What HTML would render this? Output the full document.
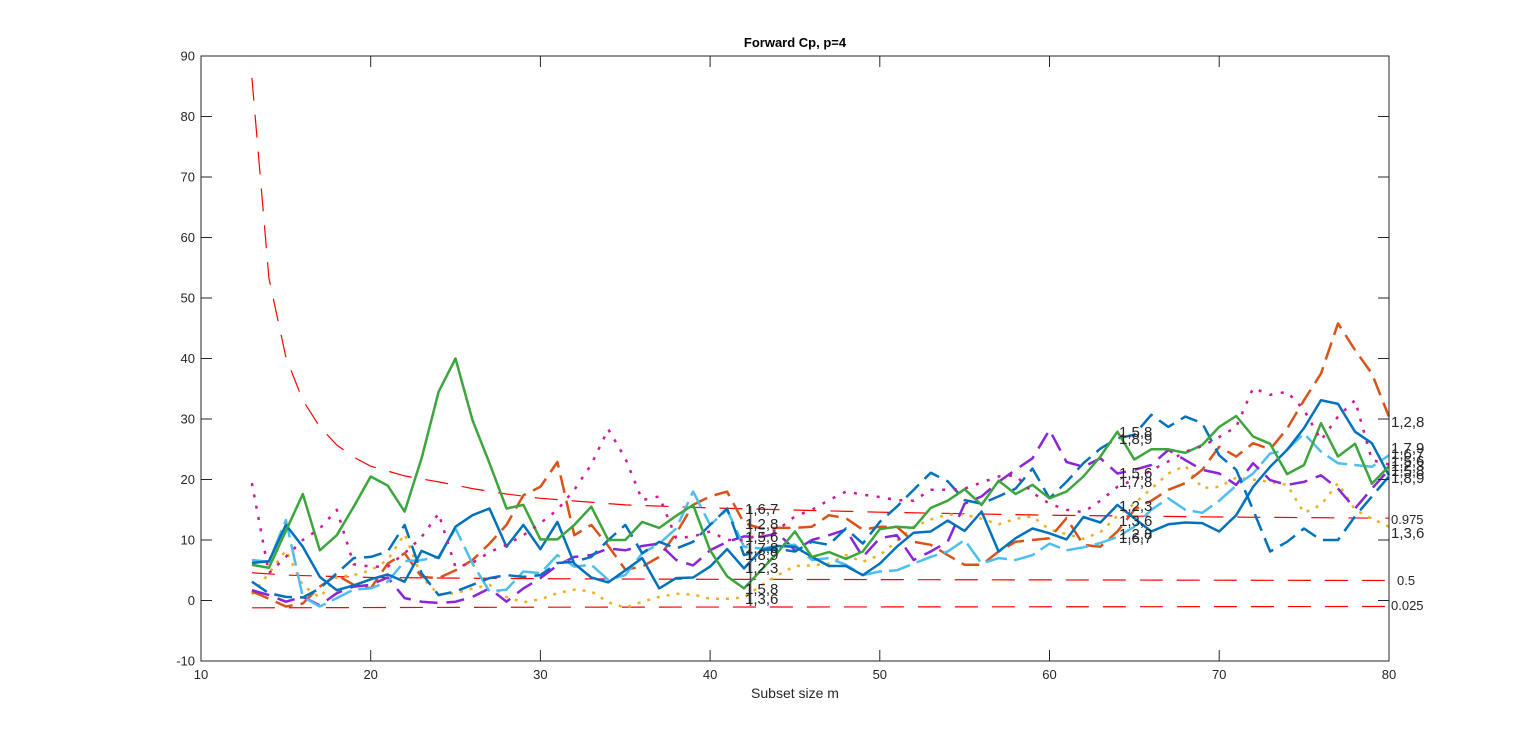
<!DOCTYPE html>
<html><head><meta charset="utf-8"><style>
html,body{margin:0;padding:0;background:#fff;}
svg{display:block;}
text{font-family:"Liberation Sans",Arial,sans-serif;fill:#262626;}
.tk{font-size:13px;}
.lb{font-size:15px;fill:#2a2a2a;}
.sm{font-size:13px;fill:#2a2a2a;}
</style></head><body>
<svg id="s" width="1536" height="744" viewBox="0 0 1536 744" xmlns="http://www.w3.org/2000/svg">
<rect x="0" y="0" width="1536" height="744" fill="#fff"/>
<g id="plot"></g>
<!-- axes box -->
<rect x="201" y="56" width="1188" height="605" fill="none" stroke="#262626" stroke-width="1"/>
<g stroke="#262626" stroke-width="1">
<line x1="370.7" y1="661" x2="370.7" y2="650"/><line x1="540.4" y1="661" x2="540.4" y2="650"/><line x1="710.1" y1="661" x2="710.1" y2="650"/><line x1="879.8" y1="661" x2="879.8" y2="650"/><line x1="1049.5" y1="661" x2="1049.5" y2="650"/><line x1="1219.2" y1="661" x2="1219.2" y2="650"/>
<line x1="370.7" y1="56" x2="370.7" y2="67"/><line x1="540.4" y1="56" x2="540.4" y2="67"/><line x1="710.1" y1="56" x2="710.1" y2="67"/><line x1="879.8" y1="56" x2="879.8" y2="67"/><line x1="1049.5" y1="56" x2="1049.5" y2="67"/><line x1="1219.2" y1="56" x2="1219.2" y2="67"/>
<line x1="201" y1="116.5" x2="212" y2="116.5"/><line x1="201" y1="177" x2="212" y2="177"/><line x1="201" y1="237.5" x2="212" y2="237.5"/><line x1="201" y1="298" x2="212" y2="298"/><line x1="201" y1="358.5" x2="212" y2="358.5"/><line x1="201" y1="419" x2="212" y2="419"/><line x1="201" y1="479.5" x2="212" y2="479.5"/><line x1="201" y1="540" x2="212" y2="540"/><line x1="201" y1="600.5" x2="212" y2="600.5"/>
<line x1="1389" y1="116.5" x2="1378" y2="116.5"/><line x1="1389" y1="177" x2="1378" y2="177"/><line x1="1389" y1="237.5" x2="1378" y2="237.5"/><line x1="1389" y1="298" x2="1378" y2="298"/><line x1="1389" y1="358.5" x2="1378" y2="358.5"/><line x1="1389" y1="419" x2="1378" y2="419"/><line x1="1389" y1="479.5" x2="1378" y2="479.5"/><line x1="1389" y1="540" x2="1378" y2="540"/><line x1="1389" y1="600.5" x2="1378" y2="600.5"/>
</g>
<!-- y tick labels -->
<g class="tk" text-anchor="end">
<text x="195" y="60.5">90</text><text x="195" y="121">80</text><text x="195" y="181.5">70</text><text x="195" y="242">60</text><text x="195" y="302.5">50</text><text x="195" y="363">40</text><text x="195" y="423.5">30</text><text x="195" y="484">20</text><text x="195" y="544.5">10</text><text x="195" y="605">0</text><text x="195" y="665.5">-10</text>
</g>
<g class="tk" text-anchor="middle">
<text x="201" y="679">10</text><text x="370.7" y="679">20</text><text x="540.4" y="679">30</text><text x="710.1" y="679">40</text><text x="879.8" y="679">50</text><text x="1049.5" y="679">60</text><text x="1219.2" y="679">70</text><text x="1389" y="679">80</text>
</g>
<text x="795" y="47" text-anchor="middle" style="font-size:13px;font-weight:bold;fill:#000">Forward Cp, p=4</text>
<text x="795" y="698" text-anchor="middle" style="font-size:14px">Subset size m</text>
<!-- vertical line at labels m=42 -->
<line x1="750.5" y1="506" x2="750.5" y2="606" stroke="#555" stroke-width="1.6"/>
<g class="lb">
<text x="745" y="514">1,6,7</text><text x="745" y="529">1,2,8</text><text x="745" y="542">1,5,6</text><text x="745" y="553">1,7,8</text><text x="745" y="560">1,8,9</text><text x="745" y="573">1,2,3</text><text x="745" y="594">1,5,8</text><text x="745" y="604">1,3,6</text>
<text x="1119" y="437">1,5,8</text><text x="1119" y="444">1,8,9</text><text x="1119" y="478">1,5,6</text><text x="1119" y="487">1,7,8</text><text x="1119" y="511">1,2,3</text><text x="1119" y="526">1,3,6</text><text x="1119" y="539">1,2,8</text><text x="1119" y="543">1,6,7</text>
<text x="1391" y="427">1,2,8</text><text x="1391" y="453">1,7,9</text><text x="1391" y="459">1,6,7</text><text x="1391" y="466">1,5,6</text><text x="1391" y="471">1,2,3</text><text x="1391" y="476">1,5,8</text><text x="1391" y="483">1,8,9</text><text x="1391" y="538">1,3,6</text>
</g>
<g class="sm">
<text x="1391" y="524">0.975</text><text x="1397" y="585">0.5</text><text x="1391" y="610">0.025</text>
</g>
</svg>
<script>
(function(){
var X=function(m){return 201+(m-10)*16.97;};
var Y=function(v){return 661-(v+10)*6.05;};
var g=document.getElementById('plot');
var NS='http://www.w3.org/2000/svg';
function pl(pts,color,w,dash,cap){
  var p=document.createElementNS(NS,'polyline');
  p.setAttribute('points',pts.map(function(a){return X(a[0]).toFixed(1)+','+Y(a[1]).toFixed(1);}).join(' '));
  p.setAttribute('fill','none');p.setAttribute('stroke',color);p.setAttribute('stroke-width',w);
  p.setAttribute('stroke-linejoin','round');
  if(cap)p.setAttribute('stroke-linecap',cap);
  if(dash)p.setAttribute('stroke-dasharray',dash);
  g.appendChild(p);
}
function ser(arr,color,w,dash,cap){
  var pts=[];for(var i=0;i<arr.length;i++)pts.push([13+i,arr[i]]);
  pl(pts,color,w,dash,cap);
}
// red envelopes
pl([[13,86.4],[14,53.3],[15,40.2],[16,33.1],[17,28.7],[18,25.7],[19,23.7],[20,22.2],[22,20.6],[24,19.6],[26,18.5],[28,17.6],[30,16.9],[35,15.8],[40,15.3],[50,14.6],[60,14.1],[70,13.8],[80,13.6]],'#ff0000',1.2,'23,14');
pl([[13,4.6],[15,4.2],[20,3.8],[30,3.6],[40,3.5],[60,3.4],[80,3.3]],'#ff0000',1.2,'23,14');
pl([[13,-1.2],[30,-1.1],[80,-1.0]],'#ff0000',1.2,'23,14');

var blue=[6.2,6.5,12.5,8.9,3.9,1.7,2.5,3.5,4.3,3.1,8.2,7.0,12.2,14.1,15.2,8.9,12.5,8.5,13.0,6.1,3.8,3.0,5.0,7.0,2.0,3.7,3.8,5.6,8.5,5.3,8.3,9,8.9,7.2,5.7,5.7,4.2,6.1,8.9,11.2,11.4,13.2,11.5,14.7,8.1,10.3,11.9,11.1,10.1,13.8,12.9,15.8,13.6,11.4,12.6,12.9,12.8,11.4,14.1,18.8,22.1,24.9,28.5,33.1,32.5,27.9,26.0,20.7];
var orange=[1.5,0.3,-1.0,-0.5,2.3,4.2,2.6,2.0,6.1,7.8,3.9,3.7,5.0,6.7,9.4,12.5,17.4,18.8,22.9,10.8,12.5,9,5.1,5.6,7.2,11.1,15.8,17.2,18.0,12.8,11.9,12,12,12.2,14.1,13.6,11.7,12.2,12.2,9.7,9.2,7.5,5.9,5.9,8.1,9.7,10,10.3,13.6,9.2,8.9,11.4,15,16.5,18.3,19.4,21.6,25.4,23.8,26,25,28.4,33.1,37.5,45.8,41.4,37.5,30.4];
var yellow=[1.0,4.5,8.3,2.5,0.5,3.9,4.2,5.0,6.7,11,3.9,1.0,1.2,2,2.6,0.6,-0.3,0.2,1.2,1.8,1.5,-0.3,-1.2,-0.2,0.6,1.1,1.0,0.3,0.3,0.5,2.5,4.2,5.7,5.8,6.1,7.5,6.4,7.5,9.8,12.2,13.4,14.2,14.2,13.5,12.6,13.5,13.9,11.7,11,10.2,11.3,14,16,18.5,21,22.3,18.6,18.8,20.3,20,19.6,19.1,14.5,15.8,19.4,15,13.5,12.2];
var purple=[1.7,0.9,-0.2,0.6,-0.8,1.2,2.3,2.6,3.8,0.4,-0.2,-0.4,-0.2,0.6,2.0,-0.2,2.0,3.7,5.8,7.2,7.5,8.6,8.3,9.0,9.4,6.7,5.8,8.3,9.7,10.6,10.5,11.1,8.3,10,10.8,11.7,7.2,10.3,10.8,6.7,8.1,9.7,16.0,17.2,19.6,21.6,23.5,28.2,22.9,22.1,23.5,21.0,21.6,22.4,24.9,23.2,21.6,21.0,19.1,22.7,19.9,19.1,19.6,20.7,18.5,15.2,18.5,21.6];
var green=[5.9,5.4,11.5,17.6,8.3,10.8,15.5,20.5,19,14.7,23.5,34.5,40.0,29.8,22.7,15.2,15.8,10.1,10.1,12.5,15.5,10,10,13,12,14,15.8,8.3,4.0,2.0,5,8,11.4,7.2,8,6.9,8.1,11.8,12.2,12,15.3,16.5,18.4,15.8,19.8,17.6,19.1,16.9,18.0,20.5,23.8,27.9,23.3,25.0,25.0,24.4,25.7,28.7,30.5,27.1,25.9,20.9,22.4,29.3,23.8,25.9,19.3,22.2];
var cyan=[6.7,6.4,13.3,0.6,-1.0,0.4,1.8,2.0,3.1,6.5,6.7,7.2,11.9,6.1,1.5,1.8,4.8,4.5,7.5,5.6,5.9,3.4,4.2,7.8,9.4,11.9,18.0,12.5,15.0,8.9,8.6,9,9.2,6.7,7.0,5.9,4.2,4.8,5.0,6.1,7.2,8.1,10,6.1,7.0,6.7,7.5,9.4,8.3,8.8,9.5,10.5,12.2,15,16.9,15,14.5,16.5,19,21,24.3,24.9,27.6,24.6,22.7,22.4,22.1,24.0];
var magenta=[19.4,4.5,7.2,10,11.9,15.0,6.0,5.6,5.6,7.8,10.5,14.4,5.5,6.2,8.0,9.2,10.8,12.8,15.0,18.3,22.5,28.3,23.5,16.6,17.2,10.3,10.6,11.4,10,10,11,11.7,13.9,15,16.6,18.0,17.5,17.1,16.6,16.5,18.3,18.3,18.5,19.5,20.5,20.7,17.8,16.0,15,14.6,16.5,18.8,20,21.5,23,24.6,25.5,27,28.7,35.1,34.0,34.5,31.5,26.5,30.4,33.1,23.2,22.5];
var bdd=[3.1,1.2,0.6,0.5,2.0,4.5,7.0,7.2,8.1,12.5,4.5,0.9,1.5,2.6,3.7,4.2,3.9,4.2,6.2,6.4,7.2,10,12.5,7.8,9.7,8.6,9.7,12.5,15.2,7.5,8.3,8.5,8.1,9.7,9.2,11.9,9.4,13.0,15.5,18.3,21.1,19.7,16.6,16.0,17.2,18.5,21.8,16.9,19.6,22.7,25.1,26.8,27.4,30.7,28.7,30.4,29.3,24.0,21.6,15,8.1,9.7,11.9,10,10,13.9,17.2,20.5];

ser(yellow,'#EDB120',2.5,'3,7','butt');
ser(orange,'#D95319',2.5,'18,8');
ser(purple,'#8a25d8',2.5,'18,9');
ser(cyan,'#4DBEEE',2.5,'22,7');
ser(bdd,'#0072BD',2.5,'18,8');
ser(blue,'#0072BD',2.5,null);
ser(green,'#3ca53c',2.5,null);
ser(magenta,'#d0179a',2.5,'3,8.5','butt');
})();
</script>
</body></html>
